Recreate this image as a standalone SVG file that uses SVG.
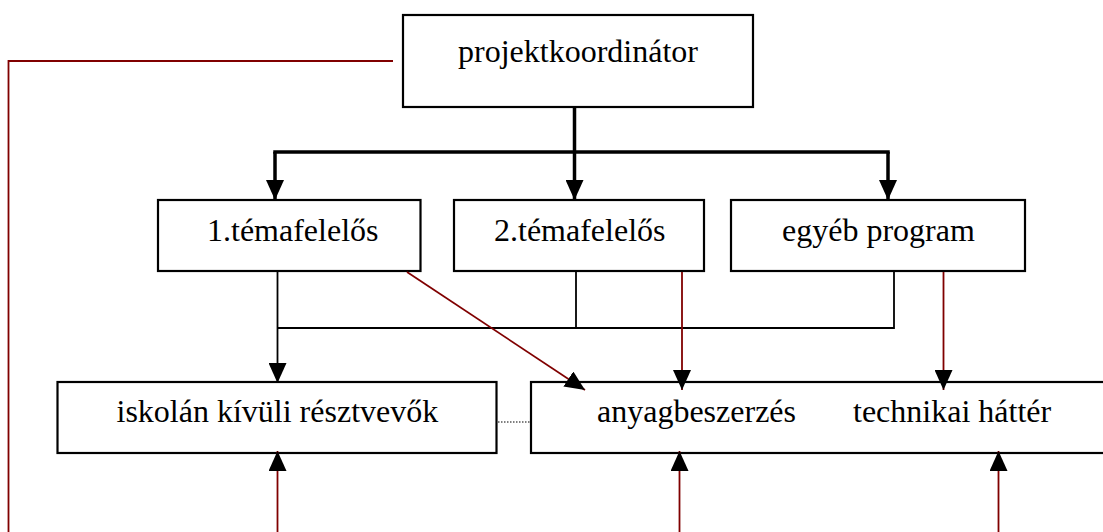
<svg xmlns="http://www.w3.org/2000/svg" width="1103" height="532" viewBox="0 0 1103 532">
<style>
.box{fill:#fff;stroke:#000;stroke-width:2.2}
.t{font-family:"Liberation Serif","Times New Roman",serif;font-size:32px;fill:#000}
.thick{stroke:#000;stroke-width:3.5;fill:none}
.thin{stroke:#000;stroke-width:1.8;fill:none}
.red{stroke:#800000;stroke-width:1.8;fill:none}
.dot{stroke:#000;stroke-width:1.2;stroke-dasharray:1.5 1.5;fill:none}
</style>
<defs>
<marker id="ah" markerUnits="userSpaceOnUse" markerWidth="20" markerHeight="18" refX="20" refY="9" orient="auto" viewBox="0 0 20 18">
<path d="M0,0 L20,9 L0,18 z" fill="#000"/>
</marker>
</defs>
<g id="projektkoordinator">
<rect class="box" x="403" y="15" width="350" height="92"/>
<text class="t" x="458" y="62">projektkoordinátor</text>
</g>
<g id="temafelelos1">
<rect class="box" x="158" y="200" width="262.5" height="71"/>
<text class="t" x="207" y="241">1.témafelelős</text>
</g>
<g id="temafelelos2">
<rect class="box" x="454" y="200" width="250" height="71"/>
<text class="t" x="494" y="241">2.témafelelős</text>
</g>
<g id="egyeb">
<rect class="box" x="731" y="200" width="294" height="71"/>
<text class="t" x="782" y="241">egyéb program</text>
</g>
<g id="iskolan">
<rect class="box" x="57.5" y="382" width="439" height="71"/>
<text class="t" x="116.5" y="422">iskolán kívüli résztvevők</text>
</g>
<g id="anyag">
<rect class="box" x="531" y="382" width="580" height="71"/>
<text class="t" x="597" y="422">anyagbeszerzés</text>
<text class="t" x="853" y="422">technikai háttér</text>
</g>
<g id="connectors">
<polyline class="red" points="393,61 8.5,61 8.5,532"/>
<line class="thick" x1="574.5" y1="107" x2="574.5" y2="200" marker-end="url(#ah)"/>
<line class="thick" x1="273.25" y1="152" x2="889.75" y2="152"/>
<line class="thick" x1="275" y1="152" x2="275" y2="200" marker-end="url(#ah)"/>
<line class="thick" x1="888" y1="152" x2="888" y2="200" marker-end="url(#ah)"/>
<line class="thin" x1="277.5" y1="272" x2="277.5" y2="383" marker-end="url(#ah)"/>
<polyline class="thin" points="277.5,328 894,328 894,272"/>
<line class="thin" x1="576" y1="272" x2="576" y2="328"/>
<line class="red" x1="407" y1="272" x2="585" y2="390" marker-end="url(#ah)"/>
<line class="red" x1="682" y1="272" x2="682" y2="390" marker-end="url(#ah)"/>
<line class="red" x1="943.5" y1="272" x2="943.5" y2="390" marker-end="url(#ah)"/>
<line class="red" x1="277.5" y1="532" x2="277.5" y2="451" marker-end="url(#ah)"/>
<line class="red" x1="679.5" y1="532" x2="679.5" y2="451" marker-end="url(#ah)"/>
<line class="red" x1="998.5" y1="532" x2="998.5" y2="451" marker-end="url(#ah)"/>
<line class="dot" x1="498" y1="422" x2="530" y2="422"/>
</g>
</svg>
